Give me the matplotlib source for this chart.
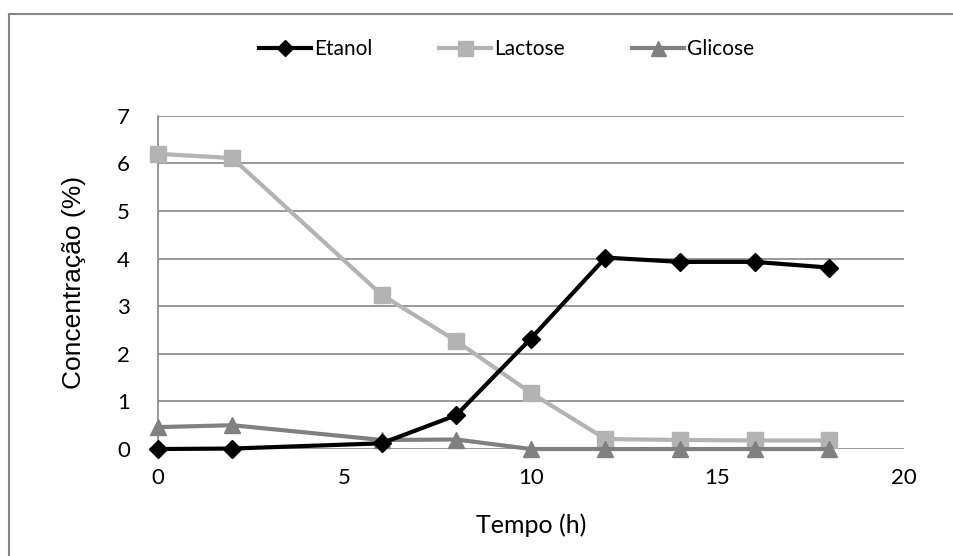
import matplotlib
matplotlib.use("Agg")
import matplotlib.pyplot as plt
from matplotlib.lines import Line2D

# data
tempo = [0, 2, 6, 8, 10, 12, 14, 16, 18]
etanol = [0.0, 0.01, 0.12, 0.71, 2.32, 4.02, 3.93, 3.93, 3.81]
lactose = [6.2, 6.11, 3.24, 2.27, 1.18, 0.21, 0.19, 0.18, 0.18]
glicose = [0.46, 0.5, 0.19, 0.2, 0.0, 0.0, 0.0, 0.0, 0.0]
y_ticks = [0, 1, 2, 3, 4, 5, 6, 7]
x_ticks = [0, 5, 10, 15, 20]

CAL = ['Lato', 'DejaVu Sans']
GRID = '#868686'

fig = plt.figure(figsize=(9.54, 5.56), dpi=100)
ax = fig.add_axes([0.1653, 0.1924, 0.9476 - 0.1653, 0.7919 - 0.1924])

ax.plot(tempo, etanol, color='black', lw=3, marker='D', markersize=9.5,
        label='Etanol', zorder=5, clip_on=False)
ax.plot(tempo, lactose, color='#b3b3b3', lw=3, marker='s', markersize=12,
        label='Lactose', zorder=3, clip_on=False)
ax.plot(tempo, glicose, color='#808080', lw=3, marker='^', markersize=12,
        label='Glicose', zorder=4, clip_on=False)

ax.set_xlim(0, 20)
ax.set_ylim(0, 7)
ax.set_xticks(x_ticks)
ax.set_yticks(y_ticks)
ax.yaxis.grid(True, color=GRID, lw=1.2)
ax.set_axisbelow(True)
for s in ['top', 'right', 'bottom']:
    ax.spines[s].set_visible(False)
ax.spines['left'].set_color(GRID)
ax.spines['left'].set_linewidth(1.2)
ax.tick_params(length=0)
for lab in ax.get_xticklabels() + ax.get_yticklabels():
    lab.set_fontfamily(CAL)
    lab.set_fontsize(16)
ax.tick_params(axis='y', pad=20)
ax.tick_params(axis='x', pad=14)

ax.set_xlabel('Tempo (h)', fontsize=18, family=CAL, labelpad=18)
ax.set_ylabel('Concentração (%)', fontsize=19, family='Liberation Sans', labelpad=22)

fig.legend(loc='center', bbox_to_anchor=(0.531, 0.911), ncol=3, frameon=False,
           prop={'family': CAL, 'size': 15}, handlelength=2.5,
           handletextpad=0.15, columnspacing=3.2, markerscale=0.9)

# outer chart border (left and top visible)
fig.add_artist(Line2D([9.5 / 954, 9.5 / 954], [0, 1 - 14 / 556],
                      transform=fig.transFigure, color=GRID, lw=1.5))
fig.add_artist(Line2D([9.5 / 954, 1], [1 - 14 / 556, 1 - 14 / 556],
                      transform=fig.transFigure, color=GRID, lw=1.5))

fig.savefig('out.png', dpi=100)
